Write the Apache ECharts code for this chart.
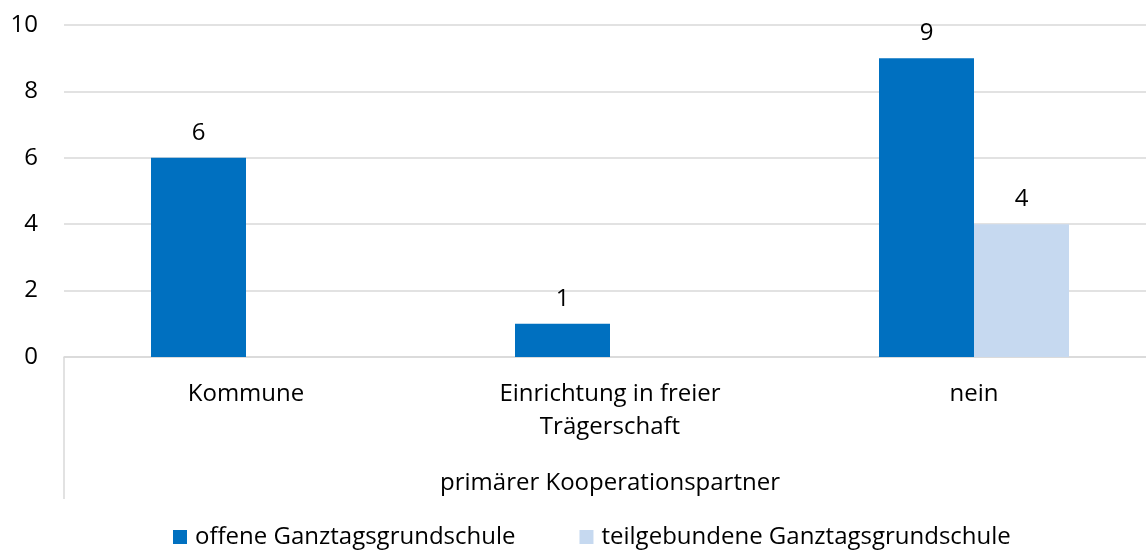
<!DOCTYPE html>
<html><head><meta charset="utf-8">
<script src="https://cdn.jsdelivr.net/npm/echarts@6/dist/echarts.min.js"></script>
<style>html,body{margin:0;padding:0;background:#fff}#c{width:1146px;height:550px}</style>
</head><body><div id="c"></div>
<script>
const categories = ['Kommune', 'Einrichtung in freier\nTrägerschaft', 'nein'];
const groupLabel = ['primärer Kooperationspartner'];
const seriesNames = ['offene Ganztagsgrundschule', 'teilgebundene Ganztagsgrundschule'];
const offen = [6, 1, 9];
const teil = [null, null, 4];
const yTicks = {min: 0, max: 10, interval: 2};

const FONT = 'Open Sans';
const FS = 24;
const chart = echarts.init(document.getElementById('c'));
chart.setOption({
  animation: false,
  textStyle: {fontFamily: FONT, color: '#000'},
  grid: {left: 64, right: -10, top: 25, bottom: 193, containLabel: false, outerBoundsMode: 'none'},
  legend: {
    left: 173, top: 525, itemWidth: 14, itemHeight: 14, itemGap: 64, padding: 0,
    icon: 'rect',
    textStyle: {fontFamily: FONT, fontSize: FS, color: '#000', padding: [0, 0, 0, 3]},
    data: seriesNames
  },
  xAxis: [{
    type: 'category', data: categories, position: 'bottom',
    axisLine: {lineStyle: {color: '#D9D9D9', width: 1.5}},
    axisTick: {show: false},
    axisLabel: {fontFamily: FONT, fontSize: FS, color: '#000', margin: 21, lineHeight: 33, interval: 0}
  }, {
    type: 'category', data: groupLabel, position: 'bottom',
    axisLine: {show: false},
    axisTick: {show: true, length: 142, lineStyle: {color: '#D9D9D9', width: 1.5}},
    axisLabel: {fontFamily: FONT, fontSize: FS, color: '#000', margin: 114}
  }],
  yAxis: {
    type: 'value', min: yTicks.min, max: yTicks.max, interval: yTicks.interval,
    axisLine: {show: false}, axisTick: {show: false},
    splitLine: {lineStyle: {color: '#D9D9D9', width: 1.5}},
    axisLabel: {fontFamily: FONT, fontSize: FS, color: '#000', margin: 26}
  },
  series: [{
    name: seriesNames[0], type: 'bar', data: offen, barWidth: 95, barGap: '0%',
    itemStyle: {color: '#0070C0'},
    label: {show: true, position: 'top', distance: 13, fontFamily: FONT, fontSize: FS, color: '#000'}
  }, {
    name: seriesNames[1], type: 'bar', data: teil, barWidth: 95, barGap: '0%',
    itemStyle: {color: '#C6D9F0'},
    label: {show: true, position: 'top', distance: 13, fontFamily: FONT, fontSize: FS, color: '#000'}
  }]
});
</script></body></html>
